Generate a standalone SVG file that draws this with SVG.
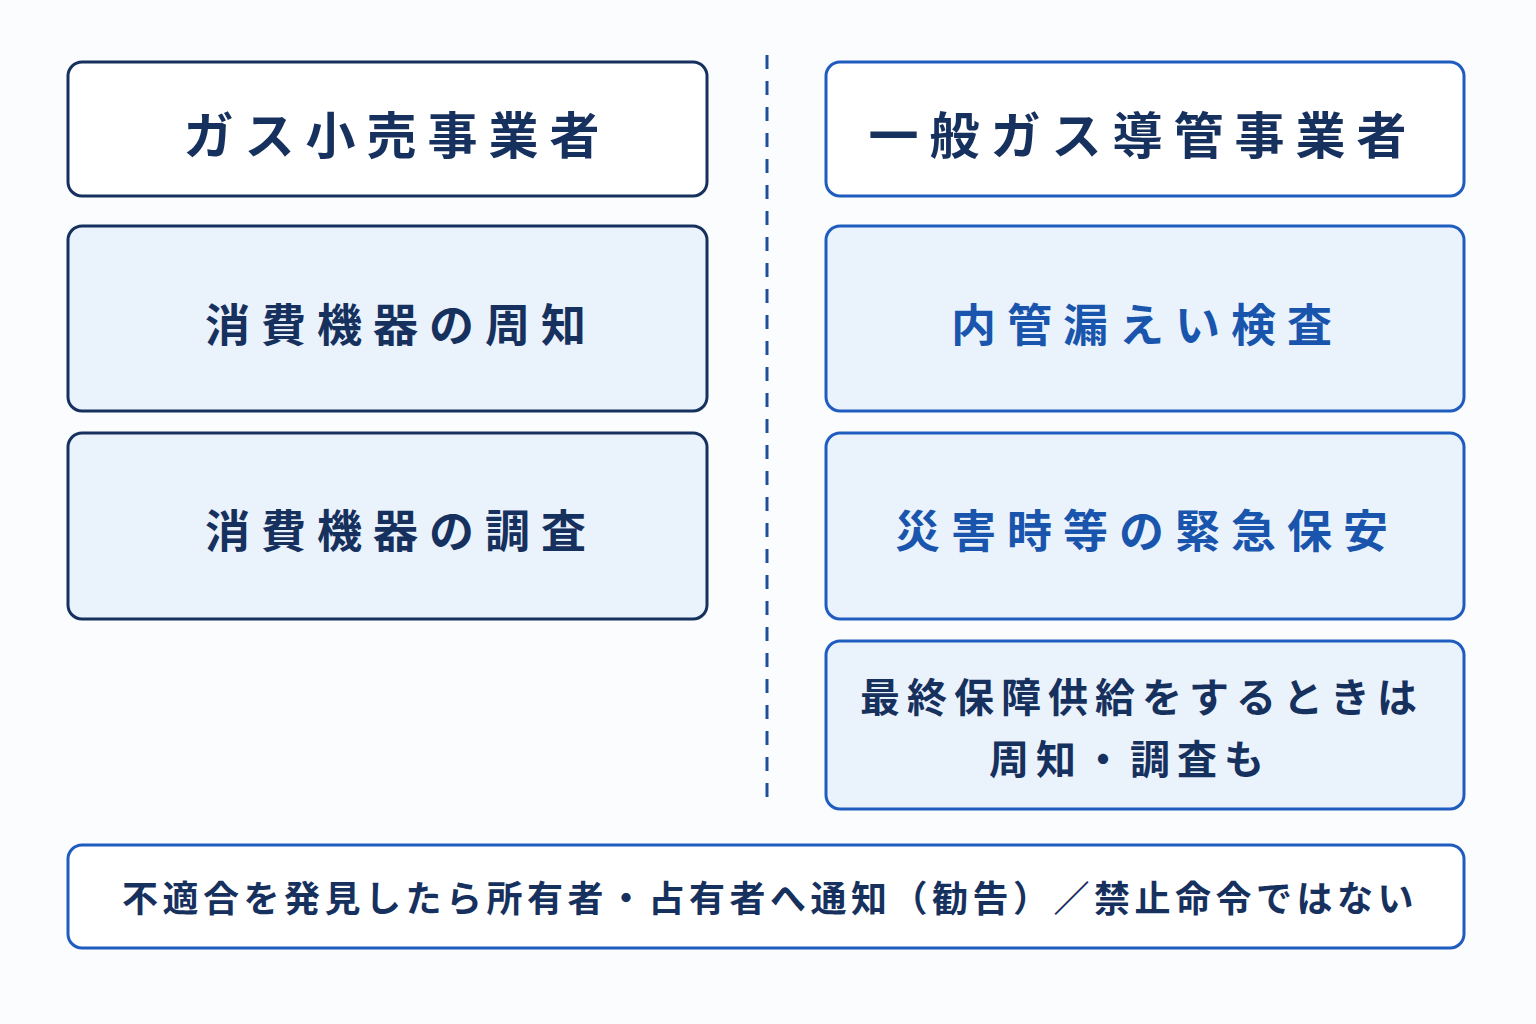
<svg xmlns="http://www.w3.org/2000/svg" width="1536" height="1024" viewBox="0 0 1536 1024">
<style>
text{font-family:"Noto Sans CJK JP","Noto Sans CJK SC",sans-serif;font-weight:700;text-anchor:middle;dominant-baseline:central}
.l{fill:#fff;stroke:#17315f;stroke-width:3}
.lf{fill:#eaf3fc;stroke:#17315f;stroke-width:3}
.r{fill:#fff;stroke:#1f5cbf;stroke-width:3}
.rf{fill:#eaf3fc;stroke:#1f5cbf;stroke-width:3}
.tl{fill:#17315f}
.tr{fill:#1a55ad}
.h{font-size:50px;letter-spacing:11px}
.m{font-size:45px;letter-spacing:11px}
</style>
<rect width="1536" height="1024" fill="#fbfcfd"/>
<g id="connectors"><line x1="767" y1="55" x2="767" y2="808" stroke="#1f4f9a" stroke-width="3" stroke-dasharray="14,12"/></g>
<g id="n1"><rect class="l" x="68" y="62" width="639" height="134" rx="14"/><text class="tl h" x="397" y="132">ガス小売事業者</text></g>
<g id="n2"><rect class="lf" x="68" y="226" width="639" height="185" rx="14"/><text class="tl m" x="401" y="322">消費機器の周知</text></g>
<g id="n3"><rect class="lf" x="68" y="433" width="639" height="186" rx="14"/><text class="tl m" x="401" y="528">消費機器の調査</text></g>
<g id="n4"><rect class="r" x="826" y="62" width="638" height="134" rx="14"/><text class="tl h" x="1143" y="132">一般ガス導管事業者</text></g>
<g id="n5"><rect class="rf" x="826" y="226" width="638" height="185" rx="14"/><text class="tr m" x="1147" y="322">内管漏えい検査</text></g>
<g id="n6"><rect class="rf" x="826" y="433" width="638" height="186" rx="14"/><text class="tr m" x="1147" y="528">災害時等の緊急保安</text></g>
<g id="n7"><rect class="rf" x="826" y="641" width="638" height="168" rx="14"/><text class="tl" x="1142" y="695" font-size="40" letter-spacing="7">最終保障供給をするときは</text><text class="tl" x="1130" y="757" font-size="40" letter-spacing="7">周知・調査も</text></g>
<g id="n8"><rect class="r" x="68" y="845" width="1396" height="103" rx="14"/><text class="tl" x="770" y="896" font-size="36" letter-spacing="4.5">不適合を発見したら所有者・占有者へ通知（勧告）／禁止命令ではない</text></g>
</svg>
